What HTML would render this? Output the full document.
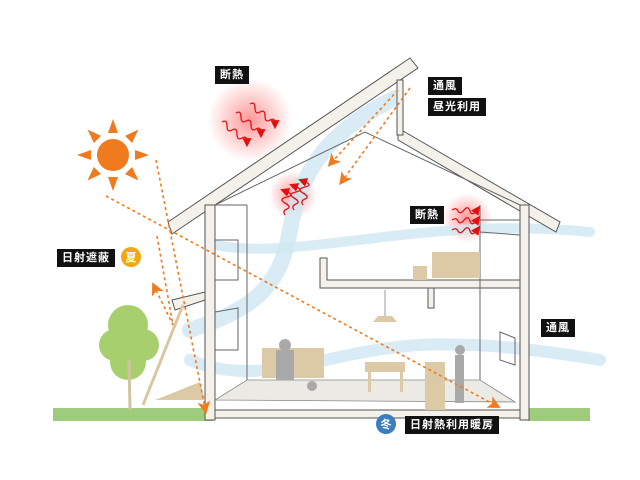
<!DOCTYPE html>
<html><head><meta charset="utf-8"><style>
html,body{margin:0;padding:0;background:#fff;width:640px;height:480px;overflow:hidden}
.l{position:absolute;background:#111;color:#fff;font:bold 11px "Liberation Sans","Noto Sans CJK JP",sans-serif;padding:2px 5px;letter-spacing:1px;line-height:14px}
</style></head><body>
<svg width="640" height="480" style="position:absolute;left:0;top:0">
<defs>
<radialGradient id="r"><stop offset="0" stop-color="#f44" stop-opacity=".55"/><stop offset="1" stop-color="#f44" stop-opacity="0"/></radialGradient>
<marker id="a" markerWidth="8" markerHeight="8" refX="4" refY="4" orient="auto"><path d="M0,0L8,4L0,8L2,4z" fill="#f07a1e"/></marker>
<marker id="ra" markerWidth="7" markerHeight="7" refX="3" refY="3.5" orient="auto"><path d="M0,0L7,3.5L0,7z" fill="#e01010"/></marker>
</defs>
<rect x="53" y="408" width="160" height="13" fill="#9fcb7c"/>
<rect x="528" y="408" width="62" height="13" fill="#9fcb7c"/>
<circle cx="250" cy="120" r="42" fill="url(#r)"/>
<circle cx="293" cy="195" r="24" fill="url(#r)"/>
<circle cx="467" cy="218" r="25" fill="url(#r)"/>
<g fill="none" stroke="#cfe7f2" stroke-opacity=".8" stroke-linecap="round">
<path d="M395,98 C330,130 300,170 290,230 C280,290 250,310 190,330" stroke-width="16"/>
<path d="M215,245 C300,262 420,215 590,232" stroke-width="10"/>
<path d="M190,360 C260,390 330,350 420,345 C480,342 540,350 600,360" stroke-width="12"/>
</g>
<g fill="#f4f1ea" stroke="#555" stroke-width="1">
<path d="M168,222 L410,58 L418,68 L172,234 Z"/>
<path d="M398,128 L560,222 L556,232 L398,140 Z"/>
<rect x="205" y="205" width="10" height="215"/>
<rect x="520" y="205" width="9" height="215"/>
<rect x="397" y="80" width="6" height="55"/>
<path d="M320,258 L327,258 L327,280 L520,280 L520,288 L320,288 Z"/>
<path d="M215,410 L520,410 L520,418 L215,418 Z"/>
<path d="M172,300 L205,292 L205,300 L175,310 Z"/>
<rect x="428" y="288" width="6" height="20"/>
</g>
<g fill="none" stroke="#666" stroke-width="1">
<path d="M215,205 L365,132 L520,205"/>
<path d="M247,205 L247,385"/>
<path d="M480,205 L480,380"/>
<path d="M215,205 L247,205"/>
<path d="M480,220 L520,220 M480,232 L520,235"/>
<path d="M500,332 L515,338 L515,365 L500,360 Z"/>
<path d="M215,240 L238,240 L238,280 L215,280"/>
<path d="M215,312 L238,308 L238,350 L215,350"/>
</g>
<path d="M215,400 L247,380 L480,380 L515,402 Z" fill="#eceae4" stroke="#888" stroke-width="0.8"/>
<g fill="#dcc9a6">
<rect x="432" y="252" width="48" height="26"/><rect x="413" y="266" width="14" height="14"/>
<rect x="262" y="348" width="62" height="30"/>
<rect x="365" y="362" width="40" height="10"/><rect x="368" y="372" width="3" height="20"/><rect x="400" y="372" width="3" height="20"/>
<rect x="425" y="362" width="20" height="48"/>
<path d="M155,400 L200,382 L205,400 Z"/>
<path d="M378,316 L392,316 L397,322 L373,322Z"/>
</g>
<line x1="385" y1="290" x2="385" y2="316" stroke="#999"/>
<g fill="#a9a9a9"><circle cx="285" cy="345" r="6"/><rect x="276" y="350" width="18" height="30"/><circle cx="460" cy="350" r="5"/><rect x="455" y="355" width="9" height="48"/><circle cx="312" cy="386" r="5"/></g>
<g fill="#a7cf6e"><circle cx="128" cy="325" r="20"/><circle cx="115" cy="345" r="16"/><circle cx="143" cy="345" r="16"/><circle cx="128" cy="362" r="18"/></g>
<path d="M129,360 L130,410" stroke="#d0c3a0" stroke-width="3"/>
<path d="M183,305 L143,405" stroke="#d8c7a0" stroke-width="3"/>
<g fill="#f07a1e">
<circle cx="113" cy="155" r="16"/>
<g transform="translate(113,155)">
<path d="M-5,-22 L0,-36 L5,-22Z"/><path d="M-5,-22 L0,-36 L5,-22Z" transform="rotate(45)"/><path d="M-5,-22 L0,-36 L5,-22Z" transform="rotate(90)"/><path d="M-5,-22 L0,-36 L5,-22Z" transform="rotate(135)"/><path d="M-5,-22 L0,-36 L5,-22Z" transform="rotate(180)"/><path d="M-5,-22 L0,-36 L5,-22Z" transform="rotate(225)"/><path d="M-5,-22 L0,-36 L5,-22Z" transform="rotate(270)"/><path d="M-5,-22 L0,-36 L5,-22Z" transform="rotate(315)"/>
</g></g>
<g fill="none" stroke="#f07a1e" stroke-width="1.6" stroke-dasharray="3,3">
<path d="M156,160 L205,408" marker-end="url(#a)"/>
<path d="M106,196 L495,405" marker-end="url(#a)"/>
<path d="M157,236 L173,325 L155,288" marker-end="url(#a)"/>
<path d="M410,88 L343,180" marker-end="url(#a)"/>
<path d="M398,90 L332,162" marker-end="url(#a)"/>
</g>
<g fill="none" stroke="#e01010" stroke-width="1.3" marker-end="url(#ra)">
<path d="M222,122 q5,-3 5,4 t5,4 t5,4 t5,4 t5,4"/>
<path d="M236,113 q5,-3 5,4 t5,4 t5,4 t5,4 t5,4"/>
<path d="M250,104 q5,-3 5,4 t5,4 t5,4 t5,4 t5,4"/>
<path d="M285,215 q-3,-4 2,-6 t-2,-6 t2,-6 t-2,-6"/>
<path d="M294,210 q-3,-4 2,-6 t-2,-6 t2,-6 t-2,-6"/>
<path d="M303,205 q-3,-4 2,-6 t-2,-6 t2,-6 t-2,-6"/>
<path d="M452,210 q4,-3 6,1 t6,-1 t6,1 t7,-1"/>
<path d="M452,220 q4,-3 6,1 t6,-1 t6,1 t7,-1"/>
<path d="M452,230 q4,-3 6,1 t6,-1 t6,1 t7,-1"/>
</g>
<circle cx="131" cy="257" r="10" fill="#f3a712"/>
<text x="131" y="261" font-size="11" font-family="Liberation Sans,Noto Sans CJK JP,sans-serif" fill="#fff" text-anchor="middle" font-weight="bold">夏</text>
<circle cx="386" cy="424" r="10" fill="#3a7dc0"/>
<text x="386" y="428" font-size="11" font-family="Liberation Sans,Noto Sans CJK JP,sans-serif" fill="#fff" text-anchor="middle" font-weight="bold">冬</text>
</svg>
<div class="l" style="left:215px;top:66px">断熱</div>
<div class="l" style="left:428px;top:77px">通風</div>
<div class="l" style="left:428px;top:98px">昼光利用</div>
<div class="l" style="left:410px;top:206px">断熱</div>
<div class="l" style="left:57px;top:249px">日射遮蔽</div>
<div class="l" style="left:541px;top:319px">通風</div>
<div class="l" style="left:405px;top:416px">日射熱利用暖房</div>
</body></html>
